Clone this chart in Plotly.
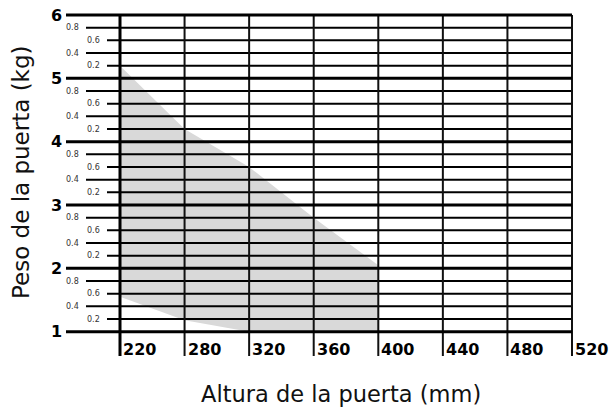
import plotly.graph_objects as go

# ---------------- data ----------------
x_labels = ["220", "280", "320", "360", "400", "440", "480", "520"]
y_major = [1, 2, 3, 4, 5, 6]
y_minor_offsets = [0.2, 0.4, 0.6, 0.8]
y_minor_labels = ["0.2", "0.4", "0.6", "0.8"]
zone_x = ["220", "280", "320", "360", "400"]
zone_upper = [5.2, 4.2, 3.6, 2.8, 2.05]
zone_lower = [1.55, 1.18, 1.0, 1.0, 1.0]

x_title = "Altura de la puerta (mm)"
y_title = "Peso de la puerta (kg)"

# ---------------- geometry (pixels) ----------------
W, H = 616, 414
PL, PR, PT, PB = 66, 574, 12, 356
X_FIRST_PX, X_LAST_PX = 120, 572
Y_LOW_PX, Y_TOP_PX = 331.7, 15.0
LONG_MINOR_PX, SHORT_MINOR_PX = 86, 107

xs = (X_LAST_PX - X_FIRST_PX) / (len(x_labels) - 1)
ys = (Y_LOW_PX - Y_TOP_PX) / (y_major[-1] - y_major[0])


def px2x(p):
    return (p - X_FIRST_PX) / xs


def px2y(p):
    return y_major[0] + (Y_LOW_PX - p) / ys


idx = {lab: i for i, lab in enumerate(x_labels)}
x_lo, x_hi = px2x(PL), px2x(PR)
y_lo, y_hi = px2y(PB), px2y(PT)

fig = go.Figure()

# shaded zone
zx = [idx[l] for l in zone_x]
fig.add_trace(go.Scatter(
    x=zx + zx[::-1], y=zone_upper + zone_lower[::-1],
    fill="toself", fillcolor="#d9d9d9", mode="lines",
    line=dict(width=0, color="#d9d9d9"), hoverinfo="skip", showlegend=False))

# minor horizontal lines
mx, my = [], []
for m in y_major[:-1]:
    for k, off in enumerate(y_minor_offsets):
        v = m + off
        start = px2x(LONG_MINOR_PX) if k % 2 == 1 else px2x(SHORT_MINOR_PX)
        mx += [start, len(x_labels) - 1, None]
        my += [v, v, None]
fig.add_trace(go.Scatter(x=mx, y=my, mode="lines",
                         line=dict(color="#000000", width=2),
                         hoverinfo="skip", showlegend=False))

# vertical lines
vx, vy = [], []
for lab in x_labels[1:]:
    i = idx[lab]
    vx += [i, i, None]
    vy += [y_lo, y_major[-1], None]
fig.add_trace(go.Scatter(x=vx, y=vy, mode="lines",
                         line=dict(color="#111111", width=2),
                         hoverinfo="skip", showlegend=False))

# major horizontal lines
Mx, My = [], []
for m in y_major:
    Mx += [x_lo, len(x_labels) - 1, None]
    My += [m, m, None]
fig.add_trace(go.Scatter(x=Mx, y=My, mode="lines",
                         line=dict(color="#000000", width=3),
                         hoverinfo="skip", showlegend=False))

# left axis line
fig.add_trace(go.Scatter(x=[idx[x_labels[0]]] * 2, y=[y_lo, y_major[-1]],
                         mode="lines", line=dict(color="#000000", width=3),
                         hoverinfo="skip", showlegend=False))

ann = []
# x tick labels
for lab in x_labels:
    ann.append(dict(x=idx[lab], y=px2y(349), xref="x", yref="y", text=lab,
                    showarrow=False, xanchor="left", yanchor="middle", xshift=1,
                    font=dict(family="DejaVu Sans", size=16, color="#000000", weight="bold")))
# y major labels
for m in y_major:
    ann.append(dict(x=x_lo, y=m, xref="x", yref="y", text=str(m),
                    showarrow=False, xanchor="right", yanchor="middle", xshift=-2,
                    font=dict(family="DejaVu Sans", size=16, color="#000000", weight="bold")))
# y minor labels
for m in y_major[:-1]:
    for k, (off, lab) in enumerate(zip(y_minor_offsets, y_minor_labels)):
        start = px2x(LONG_MINOR_PX) if k % 2 == 1 else px2x(SHORT_MINOR_PX)
        ann.append(dict(x=start, y=m + off, xref="x", yref="y", text=lab,
                        showarrow=False, xanchor="right", yanchor="middle", xshift=-5,
                        font=dict(family="DejaVu Sans", size=8, color="#333333")))
# axis titles
ann.append(dict(x=(341 - PL) / (PR - PL), y=-(394 - PB) / (PB - PT),
                xref="paper", yref="paper", text=x_title, showarrow=False,
                xanchor="center", yanchor="middle",
                font=dict(family="DejaVu Sans", size=22.5, color="#111111")))
ann.append(dict(x=-(PL - 21) / (PR - PL), y=(PB - 172) / (PB - PT),
                xref="paper", yref="paper", text=y_title, showarrow=False,
                textangle=-90, xanchor="center", yanchor="middle",
                font=dict(family="DejaVu Sans", size=23, color="#111111")))

fig.update_layout(
    width=W, height=H,
    margin=dict(l=PL, r=W - PR, t=PT, b=H - PB, pad=0),
    paper_bgcolor="white", plot_bgcolor="white",
    xaxis=dict(range=[x_lo, x_hi], visible=False, fixedrange=True),
    yaxis=dict(range=[y_lo, y_hi], visible=False, fixedrange=True),
    annotations=ann,
    showlegend=False,
    hovermode=False,
)

fig.write_html("out.html",
               config={"displayModeBar": False, "staticPlot": True},
               post_script="document.body.style.margin='0';document.body.style.overflow='hidden';")
